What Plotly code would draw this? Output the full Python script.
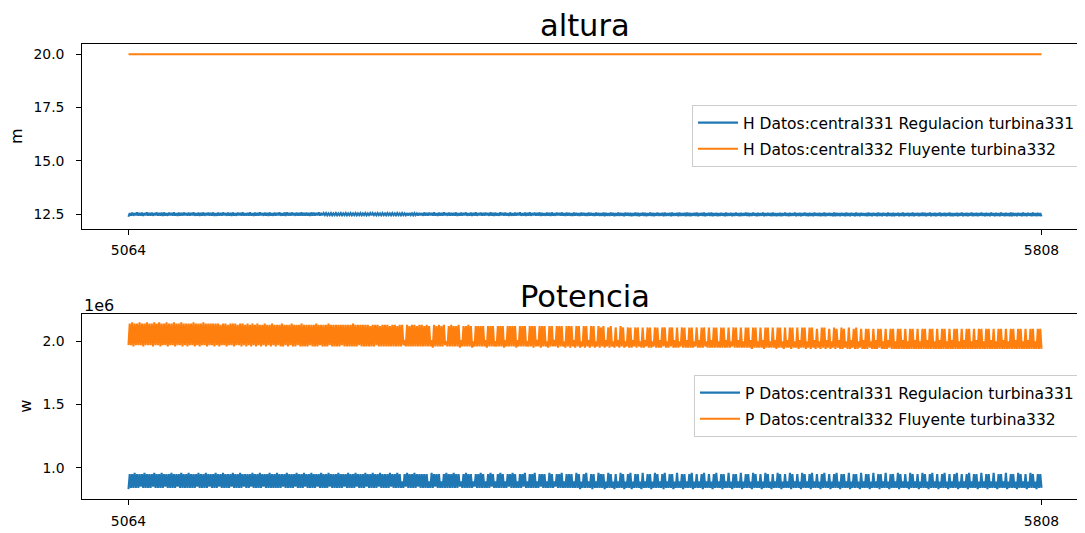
import plotly.graph_objects as go

# ---------------- data ----------------
HOURS = list(range(5064, 5809))          # hourly index shown on the x axis
X_TICKS = [5064, 5808]

# Altura (m) - central331 Regulacion turbina331
H331 = [
12.38,12.55,12.44,12.57,12.43,12.55,12.45,12.58,12.43,12.56,12.44,12.57,12.42,12.55,12.45,12.58,12.43,12.56,12.44,12.57,12.43,12.55,12.45,12.58,
12.43,12.56,12.44,12.57,12.42,12.58,12.44,12.55,12.43,12.57,12.45,12.56,12.43,12.58,12.44,12.55,12.42,12.57,12.44,12.56,12.43,12.58,12.45,12.55,
12.44,12.57,12.43,12.56,12.45,12.58,12.43,12.55,12.44,12.57,12.42,12.56,12.44,12.58,12.43,12.55,12.45,12.57,12.43,12.56,12.44,12.58,12.42,12.55,
12.43,12.57,12.44,12.56,12.43,12.58,12.45,12.55,12.43,12.57,12.44,12.56,12.42,12.58,12.44,12.55,12.43,12.57,12.45,12.56,12.43,12.58,12.44,12.55,
12.44,12.56,12.43,12.58,12.44,12.55,12.42,12.57,12.44,12.56,12.43,12.58,12.45,12.55,12.43,12.57,12.44,12.56,12.42,12.58,12.44,12.55,12.43,12.57,
12.43,12.56,12.45,12.58,12.43,12.55,12.44,12.57,12.42,12.59,12.44,12.56,12.43,12.58,12.45,12.55,12.43,12.57,12.44,12.56,12.43,12.58,12.44,12.56,
12.43,12.57,12.44,12.56,12.42,12.58,12.44,12.57,12.43,12.56,12.45,12.58,12.44,12.56,12.45,12.55,12.46,12.55,12.45,12.54,12.46,12.55,12.45,12.54,
12.46,12.55,12.45,12.54,12.46,12.55,12.45,12.54,12.46,12.55,12.45,12.54,12.46,12.55,12.45,12.54,12.46,12.55,12.45,12.54,12.46,12.55,12.45,12.54,
12.46,12.55,12.45,12.54,12.46,12.55,12.45,12.55,12.46,12.54,12.45,12.55,12.46,12.54,12.45,12.55,12.46,12.54,12.45,12.55,12.46,12.54,12.45,12.55,
12.46,12.54,12.45,12.55,12.46,12.54,12.45,12.55,12.46,12.54,12.45,12.55,12.44,12.56,12.46,12.54,12.45,12.55,12.46,12.54,12.44,12.56,12.45,12.55,
12.43,12.58,12.44,12.56,12.43,12.57,12.45,12.56,12.43,12.58,12.44,12.55,12.42,12.57,12.44,12.56,12.43,12.58,12.45,12.55,12.43,12.57,12.44,12.56,
12.43,12.56,12.44,12.58,12.42,12.55,12.44,12.57,12.43,12.56,12.45,12.58,12.43,12.55,12.44,12.57,12.42,12.56,12.44,12.58,12.43,12.55,12.45,12.57,
12.44,12.56,12.43,12.57,12.45,12.55,12.43,12.58,12.44,12.56,12.42,12.57,12.44,12.55,12.43,12.58,12.45,12.56,12.43,12.57,12.44,12.55,12.42,12.58,
12.43,12.55,12.44,12.57,12.43,12.56,12.45,12.58,12.43,12.55,12.44,12.57,12.42,12.56,12.44,12.58,12.43,12.55,12.45,12.57,12.43,12.56,12.44,12.58,
12.42,12.56,12.44,12.55,12.43,12.57,12.44,12.56,12.42,12.58,12.44,12.55,12.43,12.57,12.45,12.56,12.43,12.58,12.44,12.55,12.42,12.57,12.44,12.56,
12.43,12.55,12.42,12.57,12.44,12.56,12.43,12.55,12.42,12.57,12.44,12.56,12.43,12.55,12.42,12.57,12.44,12.56,12.43,12.55,12.42,12.57,12.44,12.56,
12.42,12.55,12.43,12.57,12.41,12.56,12.43,12.55,12.42,12.57,12.43,12.56,12.41,12.55,12.43,12.57,12.42,12.56,12.43,12.55,12.41,12.57,12.43,12.56,
12.42,12.56,12.41,12.55,12.43,12.57,12.42,12.56,12.41,12.55,12.43,12.57,12.42,12.56,12.41,12.55,12.43,12.57,12.42,12.56,12.41,12.55,12.43,12.57,
12.42,12.55,12.43,12.56,12.41,12.57,12.42,12.55,12.43,12.56,12.41,12.57,12.42,12.55,12.43,12.56,12.41,12.57,12.42,12.55,12.43,12.56,12.41,12.57,
12.42,12.56,12.41,12.55,12.43,12.56,12.42,12.57,12.41,12.55,12.43,12.56,12.42,12.57,12.41,12.55,12.43,12.56,12.42,12.57,12.41,12.55,12.43,12.56,
12.41,12.55,12.42,12.56,12.43,12.55,12.41,12.57,12.42,12.55,12.43,12.56,12.41,12.55,12.42,12.57,12.43,12.55,12.41,12.56,12.42,12.55,12.43,12.57,
12.42,12.56,12.41,12.55,12.42,12.57,12.43,12.55,12.41,12.56,12.42,12.55,12.43,12.57,12.41,12.55,12.42,12.56,12.43,12.55,12.41,12.57,12.42,12.55,
12.41,12.55,12.42,12.56,12.41,12.55,12.43,12.57,12.42,12.55,12.41,12.56,12.42,12.55,12.43,12.57,12.41,12.55,12.42,12.56,12.41,12.55,12.43,12.57,
12.42,12.55,12.41,12.56,12.42,12.55,12.41,12.57,12.43,12.55,12.42,12.56,12.41,12.55,12.42,12.57,12.41,12.55,12.43,12.56,12.42,12.55,12.41,12.57,
12.41,12.56,12.42,12.55,12.41,12.56,12.43,12.55,12.41,12.57,12.42,12.55,12.41,12.56,12.43,12.55,12.41,12.57,12.42,12.55,12.41,12.56,12.43,12.55,
12.42,12.55,12.41,12.57,12.42,12.55,12.41,12.56,12.43,12.55,12.41,12.57,12.42,12.55,12.41,12.56,12.43,12.55,12.41,12.57,12.42,12.55,12.41,12.56,
12.41,12.55,12.43,12.56,12.41,12.55,12.42,12.57,12.41,12.55,12.43,12.56,12.41,12.55,12.42,12.57,12.41,12.55,12.43,12.56,12.41,12.55,12.42,12.57,
12.42,12.56,12.41,12.55,12.43,12.57,12.41,12.55,12.42,12.56,12.41,12.55,12.43,12.57,12.41,12.55,12.42,12.56,12.41,12.55,12.43,12.57,12.41,12.55,
12.41,12.55,12.42,12.56,12.41,12.55,12.43,12.57,12.41,12.55,12.42,12.56,12.41,12.55,12.43,12.57,12.41,12.55,12.42,12.56,12.41,12.55,12.43,12.57,
12.42,12.55,12.41,12.56,12.42,12.55,12.41,12.57,12.43,12.55,12.41,12.56,12.42,12.55,12.41,12.57,12.43,12.55,12.41,12.56,12.42,12.55,12.41,12.57,
12.41,12.56,12.42,12.55,12.41,12.56,12.43,12.55,12.41,12.57,12.42,12.55,12.41,12.56,12.43,12.55,12.41,12.57,12.42,12.55,12.41,12.56,12.42,12.55,
12.40,
]

# Altura (m) - central332 Fluyente turbina332 (flat at 20.0 m)
H332 = [20.0] * len(HOURS)

# Potencia (MW, axis shown with 1e6 offset) - central331 Regulacion turbina331
P331_MW = [
0.83,0.95,0.84,0.95,0.84,0.96,0.84,0.95,0.84,0.95,0.85,0.95,0.84,0.96,0.84,0.95,0.84,0.95,0.84,0.95,0.85,0.96,0.84,0.95,
0.84,0.95,0.84,0.96,0.84,0.95,0.85,0.95,0.84,0.95,0.84,0.96,0.84,0.95,0.84,0.95,0.85,0.95,0.84,0.96,0.84,0.95,0.84,0.95,
0.84,0.96,0.84,0.95,0.84,0.95,0.84,0.95,0.85,0.96,0.84,0.95,0.84,0.95,0.84,0.96,0.84,0.95,0.85,0.95,0.84,0.95,0.84,0.96,
0.84,0.95,0.85,0.95,0.84,0.96,0.84,0.95,0.84,0.95,0.84,0.95,0.85,0.96,0.84,0.95,0.84,0.95,0.84,0.96,0.84,0.95,0.85,0.95,
0.84,0.95,0.84,0.95,0.85,0.96,0.84,0.95,0.84,0.95,0.84,0.96,0.84,0.95,0.85,0.95,0.84,0.95,0.84,0.96,0.84,0.95,0.84,0.95,
0.84,0.96,0.84,0.95,0.84,0.95,0.85,0.95,0.84,0.96,0.84,0.95,0.84,0.95,0.84,0.95,0.85,0.96,0.84,0.95,0.84,0.95,0.84,0.96,
0.85,0.95,0.84,0.95,0.84,0.96,0.84,0.95,0.84,0.95,0.85,0.95,0.84,0.96,0.84,0.95,0.84,0.95,0.84,0.96,0.85,0.95,0.84,0.95,
0.84,0.95,0.84,0.96,0.84,0.95,0.84,0.95,0.85,0.95,0.84,0.96,0.84,0.95,0.84,0.95,0.84,0.96,0.85,0.95,0.84,0.95,0.84,0.95,
0.84,0.96,0.85,0.95,0.84,0.95,0.84,0.96,0.84,0.95,0.84,0.95,0.85,0.96,0.84,0.95,0.84,0.95,0.84,0.95,0.84,0.96,0.85,0.95,
0.84,0.95,0.84,0.96,0.84,0.95,0.84,0.89,0.84,0.95,0.85,0.96,0.84,0.95,0.84,0.95,0.84,0.96,0.84,0.95,0.85,0.95,0.84,0.95,
0.84,0.95,0.84,0.95,0.84,0.89,0.84,0.96,0.84,0.95,0.85,0.95,0.84,0.95,0.84,0.89,0.84,0.95,0.84,0.96,0.84,0.95,0.84,0.95,
0.84,0.96,0.84,0.95,0.84,0.95,0.85,0.89,0.84,0.95,0.84,0.96,0.84,0.95,0.84,0.95,0.84,0.89,0.85,0.95,0.84,0.95,0.84,0.96,
0.84,0.95,0.84,0.89,0.84,0.95,0.84,0.96,0.85,0.95,0.84,0.89,0.84,0.95,0.84,0.96,0.84,0.95,0.84,0.89,0.84,0.95,0.85,0.95,
0.84,0.96,0.84,0.95,0.84,0.89,0.84,0.95,0.84,0.95,0.85,0.96,0.84,0.89,0.84,0.95,0.84,0.95,0.84,0.96,0.84,0.89,0.84,0.95,
0.85,0.95,0.84,0.95,0.84,0.89,0.84,0.96,0.84,0.95,0.84,0.89,0.85,0.95,0.84,0.95,0.84,0.96,0.84,0.89,0.84,0.95,0.84,0.95,
0.84,0.95,0.84,0.89,0.84,0.96,0.84,0.95,0.83,0.89,0.84,0.95,0.84,0.96,0.84,0.89,0.84,0.95,0.83,0.95,0.84,0.89,0.84,0.96,
0.84,0.95,0.84,0.95,0.83,0.89,0.84,0.96,0.84,0.95,0.84,0.89,0.83,0.95,0.84,0.89,0.84,0.96,0.84,0.95,0.83,0.89,0.84,0.95,
0.84,0.96,0.83,0.89,0.84,0.95,0.84,0.95,0.84,0.89,0.83,0.96,0.84,0.89,0.84,0.95,0.84,0.95,0.83,0.89,0.84,0.96,0.84,0.95,
0.84,0.89,0.84,0.95,0.83,0.96,0.84,0.89,0.84,0.95,0.84,0.95,0.83,0.89,0.84,0.96,0.84,0.89,0.84,0.95,0.83,0.95,0.84,0.89,
0.84,0.95,0.84,0.96,0.83,0.89,0.84,0.95,0.84,0.89,0.84,0.95,0.83,0.96,0.84,0.89,0.84,0.95,0.84,0.89,0.83,0.95,0.84,0.96,
0.84,0.89,0.84,0.95,0.83,0.95,0.84,0.89,0.84,0.96,0.84,0.89,0.83,0.95,0.84,0.95,0.84,0.89,0.84,0.96,0.83,0.89,0.84,0.95,
0.84,0.95,0.84,0.89,0.83,0.96,0.84,0.95,0.84,0.89,0.84,0.95,0.83,0.89,0.84,0.96,0.84,0.95,0.84,0.89,0.83,0.95,0.84,0.89,
0.84,0.96,0.84,0.95,0.83,0.89,0.84,0.95,0.84,0.89,0.84,0.96,0.83,0.95,0.84,0.89,0.84,0.95,0.84,0.89,0.83,0.96,0.84,0.95,
0.84,0.89,0.84,0.95,0.83,0.96,0.84,0.89,0.84,0.95,0.84,0.89,0.83,0.95,0.84,0.96,0.84,0.89,0.84,0.95,0.83,0.89,0.84,0.95,
0.84,0.96,0.84,0.89,0.83,0.95,0.84,0.95,0.84,0.89,0.84,0.96,0.83,0.89,0.84,0.95,0.84,0.95,0.84,0.89,0.83,0.96,0.84,0.89,
0.84,0.95,0.84,0.95,0.83,0.89,0.84,0.96,0.84,0.89,0.84,0.95,0.83,0.95,0.84,0.89,0.84,0.96,0.84,0.89,0.83,0.95,0.84,0.95,
0.84,0.89,0.84,0.96,0.83,0.95,0.84,0.89,0.84,0.95,0.84,0.89,0.83,0.96,0.84,0.95,0.84,0.89,0.84,0.95,0.83,0.89,0.84,0.96,
0.84,0.95,0.84,0.89,0.83,0.95,0.84,0.96,0.84,0.89,0.84,0.95,0.83,0.89,0.84,0.95,0.84,0.96,0.84,0.89,0.83,0.95,0.84,0.89,
0.84,0.95,0.84,0.96,0.83,0.89,0.84,0.95,0.84,0.89,0.84,0.95,0.83,0.96,0.84,0.89,0.84,0.95,0.84,0.95,0.83,0.89,0.84,0.96,
0.84,0.89,0.84,0.95,0.83,0.95,0.84,0.89,0.84,0.96,0.84,0.89,0.83,0.95,0.84,0.95,0.84,0.89,0.84,0.96,0.83,0.89,0.84,0.95,
0.84,0.95,0.84,0.89,0.83,0.96,0.84,0.95,0.84,0.89,0.84,0.95,0.83,0.89,0.84,0.96,0.84,0.95,0.84,0.89,0.83,0.95,0.84,0.95,
0.84,
]

# Potencia (MW) - central332 Fluyente turbina332
P332_MW = [
1.97,2.14,1.97,2.15,1.96,2.14,1.97,2.14,1.97,2.15,1.97,2.14,1.96,2.14,1.97,2.15,1.97,2.14,1.97,2.14,1.96,2.15,1.97,2.14,
1.97,2.15,1.96,2.14,1.97,2.14,1.97,2.15,1.96,2.14,1.97,2.14,1.97,2.15,1.96,2.14,1.97,2.14,1.97,2.15,1.96,2.14,1.97,2.14,
1.96,2.14,1.97,2.14,1.97,2.15,1.96,2.14,1.97,2.14,1.96,2.14,1.97,2.15,1.97,2.14,1.96,2.14,1.97,2.14,1.97,2.14,1.96,2.14,
1.97,2.14,1.96,2.13,1.97,2.14,1.97,2.14,1.96,2.13,1.97,2.14,1.97,2.14,1.96,2.14,1.97,2.13,1.97,2.14,1.96,2.14,1.97,2.13,
1.96,2.14,1.97,2.13,1.96,2.14,1.97,2.13,1.96,2.14,1.97,2.13,1.96,2.13,1.97,2.14,1.96,2.13,1.97,2.13,1.96,2.14,1.97,2.13,
1.96,2.13,1.97,2.13,1.96,2.14,1.96,2.13,1.97,2.13,1.96,2.13,1.97,2.14,1.96,2.13,1.96,2.13,1.97,2.13,1.96,2.14,1.96,2.13,
1.96,2.13,1.96,2.13,1.97,2.13,1.96,2.13,1.96,2.14,1.96,2.13,1.97,2.13,1.96,2.13,1.96,2.13,1.96,2.14,1.97,2.13,1.96,2.13,
1.96,2.13,1.96,2.13,1.96,2.13,1.97,2.13,1.96,2.13,1.96,2.13,1.96,2.13,1.96,2.14,1.96,2.13,1.96,2.13,1.97,2.13,1.96,2.13,
1.96,2.13,1.96,2.13,1.96,2.12,1.96,2.13,1.96,2.13,1.97,2.13,1.96,2.12,1.96,2.13,1.96,2.13,1.96,2.13,1.96,2.12,1.96,2.13,
1.96,2.13,1.96,2.12,1.96,2.13,1.96,2.13,1.97,2.01,1.96,2.13,1.96,2.12,1.96,2.13,1.96,2.13,1.96,2.12,1.96,2.13,1.96,2.13,
1.96,2.12,1.96,2.13,1.96,2.12,1.96,2.01,1.95,2.13,1.96,2.12,1.96,2.13,1.96,2.12,1.96,2.13,1.97,2.00,1.96,2.12,1.96,2.13,
1.96,2.12,1.96,2.12,1.96,2.13,1.95,2.01,1.96,2.12,1.96,2.12,1.96,2.13,1.96,2.12,1.95,2.00,1.96,2.12,1.96,2.12,1.96,2.12,
1.96,2.12,1.96,2.01,1.95,2.12,1.96,2.12,1.96,2.12,1.96,2.00,1.96,2.12,1.96,2.12,1.96,2.12,1.95,2.01,1.96,2.12,1.96,2.12,
1.96,2.12,1.96,2.12,1.95,2.01,1.96,2.12,1.96,2.12,1.96,2.12,1.96,2.00,1.96,2.12,1.96,2.12,1.95,2.12,1.96,2.01,1.96,2.12,
1.95,2.12,1.96,2.12,1.96,2.00,1.95,2.12,1.96,2.12,1.96,2.01,1.96,2.12,1.95,2.12,1.96,2.12,1.96,2.00,1.95,2.12,1.96,2.12,
1.95,2.12,1.96,2.01,1.95,2.12,1.96,2.12,1.95,2.00,1.96,2.12,1.95,2.12,1.96,2.01,1.95,2.12,1.96,2.12,1.95,2.00,1.96,2.12,
1.95,2.11,1.96,2.12,1.95,2.01,1.96,2.11,1.95,2.12,1.96,2.00,1.95,2.11,1.96,2.01,1.95,2.12,1.96,2.11,1.95,2.00,1.96,2.11,
1.95,2.11,1.95,2.01,1.96,2.11,1.95,2.11,1.96,2.00,1.95,2.11,1.95,2.01,1.96,2.11,1.95,2.11,1.95,2.00,1.96,2.11,1.95,2.11,
1.95,2.01,1.95,2.11,1.96,2.11,1.95,2.00,1.95,2.11,1.96,2.11,1.95,2.01,1.95,2.11,1.95,2.00,1.96,2.11,1.95,2.11,1.95,2.01,
1.95,2.11,1.95,2.11,1.95,2.00,1.96,2.11,1.95,2.01,1.95,2.11,1.95,2.11,1.96,2.00,1.95,2.11,1.95,2.01,1.95,2.11,1.95,2.11,
1.95,2.00,1.95,2.11,1.95,2.11,1.95,2.01,1.95,2.11,1.95,2.00,1.96,2.11,1.95,2.11,1.95,2.01,1.95,2.11,1.95,2.00,1.95,2.11,
1.95,2.11,1.95,2.01,1.94,2.11,1.95,2.11,1.95,2.00,1.95,2.11,1.95,2.01,1.94,2.11,1.95,2.11,1.95,2.00,1.95,2.11,1.95,2.01,
1.94,2.11,1.95,2.11,1.95,2.00,1.94,2.11,1.95,2.01,1.95,2.11,1.94,2.11,1.95,2.00,1.95,2.11,1.94,2.01,1.95,2.11,1.95,2.11,
1.94,2.00,1.95,2.11,1.94,2.11,1.95,2.01,1.94,2.10,1.95,2.00,1.94,2.11,1.95,2.11,1.94,2.01,1.95,2.10,1.94,2.00,1.95,2.11,
1.94,2.10,1.95,2.01,1.94,2.11,1.94,2.10,1.95,2.00,1.94,2.11,1.94,2.01,1.95,2.10,1.94,2.11,1.94,2.00,1.95,2.10,1.94,2.01,
1.94,2.10,1.94,2.10,1.95,2.00,1.94,2.10,1.94,2.01,1.94,2.10,1.95,2.10,1.94,2.00,1.94,2.10,1.94,2.01,1.95,2.10,1.94,2.10,
1.94,2.00,1.94,2.10,1.94,2.10,1.94,2.01,1.94,2.10,1.94,2.00,1.94,2.10,1.94,2.10,1.94,2.01,1.94,2.10,1.94,2.00,1.94,2.10,
1.94,2.10,1.94,2.01,1.94,2.10,1.94,2.10,1.94,2.00,1.94,2.10,1.94,2.01,1.94,2.10,1.94,2.10,1.94,2.00,1.94,2.10,1.94,2.01,
1.94,2.10,1.94,2.10,1.94,2.00,1.94,2.10,1.94,2.01,1.94,2.10,1.94,2.10,1.94,2.00,1.94,2.10,1.94,2.01,1.94,2.10,1.94,2.10,
1.94,2.00,1.94,2.10,1.94,2.10,1.94,2.01,1.94,2.10,1.94,2.00,1.94,2.10,1.94,2.10,1.94,2.01,1.94,2.10,1.94,2.00,1.94,2.10,
1.94,2.10,1.94,2.01,1.94,2.10,1.94,2.10,1.94,2.00,1.94,2.10,1.94,2.01,1.94,2.10,1.94,2.10,1.94,2.00,1.94,2.10,1.94,2.10,
1.94,
]

NAMES_H = ["H Datos:central331 Regulacion turbina331", "H Datos:central332 Fluyente turbina332"]
NAMES_P = ["P Datos:central331 Regulacion turbina331", "P Datos:central332 Fluyente turbina332"]
H_TICKS = [12.5, 15.0, 17.5, 20.0]
P_TICKS_MW = [1.0, 1.5, 2.0]

for s in (H331, H332, P331_MW, P332_MW):
    assert len(s) == len(HOURS), len(s)

# ---------------- styling ----------------
OFF = 8                       # page body margin of the html page
W, H = 1085 - OFF, 533 - OFF  # figure size so that it ends at the window edge
BLUE, ORANGE = "#1f77b4", "#ff7f0e"
FONT = "DejaVu Sans"
FS_TICK = 13.9
FS_LEG = 15.5
FS_LAB = 16.0
FS_TITLE = 30.5
LW = 2.1


def py(px):  # screen pixel row -> paper fraction
    return (H - (px - OFF)) / H


def px_x(px):  # screen pixel column -> paper fraction
    return (px - OFF) / W


X_DOMAIN = [px_x(82.3), 1.0]
X_RANGE = [5026.35, 5843.45]

fig = go.Figure()
fig.add_trace(go.Scatter(x=HOURS, y=H331, mode="lines", name=NAMES_H[0], legendgroup="h1",
                         line=dict(color=BLUE, width=LW), xaxis="x", yaxis="y", legend="legend"))
fig.add_trace(go.Scatter(x=HOURS, y=H332, mode="lines", name=NAMES_H[1], legendgroup="h2",
                         line=dict(color=ORANGE, width=LW), xaxis="x", yaxis="y", legend="legend"))
fig.add_trace(go.Scatter(x=HOURS, y=[v * 1e6 for v in P331_MW], mode="lines", name=NAMES_P[0],
                         legendgroup="p1", line=dict(color=BLUE, width=LW),
                         xaxis="x2", yaxis="y2", legend="legend2"))
fig.add_trace(go.Scatter(x=HOURS, y=[v * 1e6 for v in P332_MW], mode="lines", name=NAMES_P[1],
                         legendgroup="p2", line=dict(color=ORANGE, width=LW),
                         xaxis="x2", yaxis="y2", legend="legend2"))

axis_common = dict(showline=True, linecolor="black", linewidth=1.1, ticks="outside",
                   ticklen=5, tickwidth=1.1, tickcolor="black", showgrid=False, zeroline=False,
                   tickfont=dict(family=FONT, size=FS_TICK, color="black"))

legend_common = dict(xanchor="right", yanchor="top", x=px_x(1080), bgcolor="rgba(255,255,255,0.8)",
                     bordercolor="#cccccc", borderwidth=1, itemwidth=40,
                     traceorder="grouped", tracegroupgap=3,
                     font=dict(family=FONT, size=FS_LEG, color="black"))

fig.update_layout(
    width=W, height=H, margin=dict(l=0, r=0, t=0, b=0),
    paper_bgcolor="white", plot_bgcolor="white",
    font=dict(family=FONT, size=FS_TICK, color="black"),
    xaxis=dict(domain=X_DOMAIN, range=X_RANGE, anchor="y", tickvals=X_TICKS, mirror=True,
               ticklabelstandoff=4, **axis_common),
    yaxis=dict(domain=[py(228.7), py(44.3)], range=[11.82, 20.47], anchor="x",
               tickvals=H_TICKS, tickformat=".1f", ticklabelstandoff=9, **axis_common),
    xaxis2=dict(domain=X_DOMAIN, range=X_RANGE, anchor="y2", tickvals=X_TICKS, mirror=True,
                ticklabelstandoff=4, **axis_common),
    yaxis2=dict(domain=[py(499.0), py(314.3)], range=[0.752e6, 2.214e6], anchor="x2",
                tickvals=[v * 1e6 for v in P_TICKS_MW], ticktext=[f"{v:.1f}" for v in P_TICKS_MW],
                ticklabelstandoff=9, **axis_common),
    legend=dict(y=py(105), **legend_common),
    legend2=dict(y=py(375), **legend_common),
    showlegend=True,
)

title_x = px_x(584.5)
ann = [
    dict(text="altura", x=title_x, y=py(26), xref="paper", yref="paper", showarrow=False,
         xanchor="center", yanchor="middle", font=dict(family=FONT, size=FS_TITLE, color="black")),
    dict(text="Potencia", x=title_x, y=py(296), xref="paper", yref="paper", showarrow=False,
         xanchor="center", yanchor="middle", font=dict(family=FONT, size=FS_TITLE, color="black")),
    dict(text="m", x=px_x(16.5), y=py(136.5), xref="paper", yref="paper", showarrow=False,
         textangle=-90, xanchor="center", yanchor="middle", font=dict(family=FONT, size=FS_LAB, color="black")),
    dict(text="w", x=px_x(26), y=py(406.7), xref="paper", yref="paper", showarrow=False,
         textangle=-90, xanchor="center", yanchor="middle", font=dict(family=FONT, size=FS_LAB, color="black")),
    dict(text="1e6", x=px_x(82.3), y=py(305), xref="paper", yref="paper", showarrow=False,
         xanchor="left", yanchor="middle", font=dict(family=FONT, size=FS_LAB, color="black")),
]
fig.update_layout(annotations=ann)

fig.write_html("out.html")
